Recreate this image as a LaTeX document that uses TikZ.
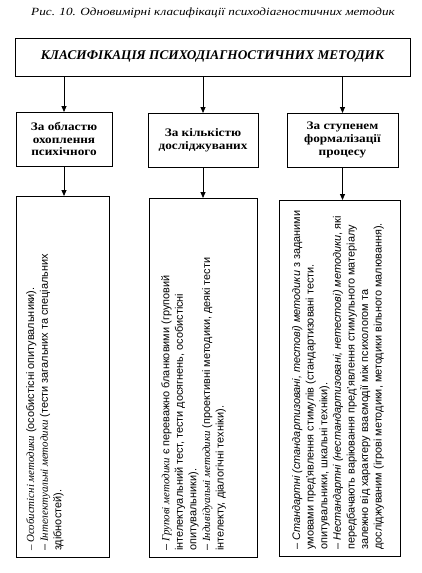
\documentclass[tikz,border=0pt]{standalone}
\usepackage{fontspec}
\setmainfont{Liberation Serif}
\setsansfont{Liberation Sans}
\newfontfamily\widerm[FakeStretch=1.2]{Liberation Serif}
\newfontfamily\midrm[FakeStretch=1.15]{Liberation Serif}
\usetikzlibrary{arrows.meta,calc}
\newcommand\rmit[1]{{\rmfamily\itshape #1}}
\begin{document}
\begin{tikzpicture}[x=1pt,y=-1pt,
  frame/.style={draw=black, line width=0.8pt, inner sep=0pt, outer sep=0pt},
  midbox/.style={frame, align=center, font=\midrm\bfseries\fontsize{11.5}{12.8}\selectfont},
  body/.style={rotate=90, anchor=north west, align=left, inner sep=0pt,
    font=\sffamily\fontsize{10.9}{13.6}\selectfont},
  arr/.style={line width=0.8pt, -{Triangle[length=6pt,width=5pt]}}]
\useasboundingbox (0,0) rectangle (421,573);
\fill[white] (0,0) rectangle (421,573);

\node[inner sep=0pt, font=\widerm\itshape\fontsize{11}{13}\selectfont] (title) at (213,13)
  {Рис. 10. Одновимірні класифікації психодіагностичних методик};

\node[frame, minimum width=395pt, minimum height=38pt,
  font=\rmfamily\bfseries\itshape\fontsize{13.3}{15}\selectfont] (main) at (212.5,57)
  {КЛАСИФІКАЦІЯ ПСИХОДІАГНОСТИЧНИХ МЕТОДИК};

\node[midbox, minimum width=96pt, minimum height=54pt] (m1) at (64,139)
  {За областю\\охоплення\\психічного};
\node[midbox, minimum width=110pt, minimum height=54pt] (m2) at (203,140)
  {За кількістю\\досліджуваних};
\node[midbox, minimum width=111pt, minimum height=54pt] (m3) at (342.5,140)
  {За ступенем\\формалізації\\процесу};

\node[frame, minimum width=93pt, minimum height=361pt] (b1) at (62.5,376.5) {};
\node[frame, minimum width=108pt, minimum height=359pt] (b2) at (203,377.5) {};
\node[frame, minimum width=121pt, minimum height=356pt] (b3) at (339.5,378) {};

\node[body] (t1) at ($(b1.south west)+(10,-6)$)
  {\rmit{– Особистісні методики} (особистісні опитувальники).\\
   – \rmit{Інтелектуальні методики} (тести загальних та спеціальних\\
   здібностей).};
\node[body] (t2) at ($(b2.south west)+(12,-6)$)
  {– \rmit{Групові методики} є переважно бланковими (груповий\\
   інтелектуальний тест, тести досягнень, особистісні\\
   опитувальники).\\
   – \rmit{Індивідуальні методики} (проективні методики, деякі тести\\
   інтелекту, діалогічні техніки).};
\node[body] (t3) at ($(b3.south west)+(13,-6)$)
  {– \textit{Стандартні (стандартизовані, тестові) методики} з заданими\\
   умовами пред’явлення стимулів (стандартизовані тести.\\
   опитувальники, шкальні техніки).\\
   – \textit{Нестандартні (нестандартизовані, нетестові) методики}, які\\
   передбачають варіювання пред’явлення стимульного матеріалу\\
   залежно від характеру взаємодії між психологом та\\
   досліджуваним (ігрові методики, методики вільного малювання).};

\foreach \m/\b in {m1/b1, m2/b2, m3/b3}{
  \draw[arr] (\m.north |- main.south) -- (\m.north);
  \draw[arr] (\m.south) -- (\m.south |- \b.north);
}
\end{tikzpicture}
\end{document}
